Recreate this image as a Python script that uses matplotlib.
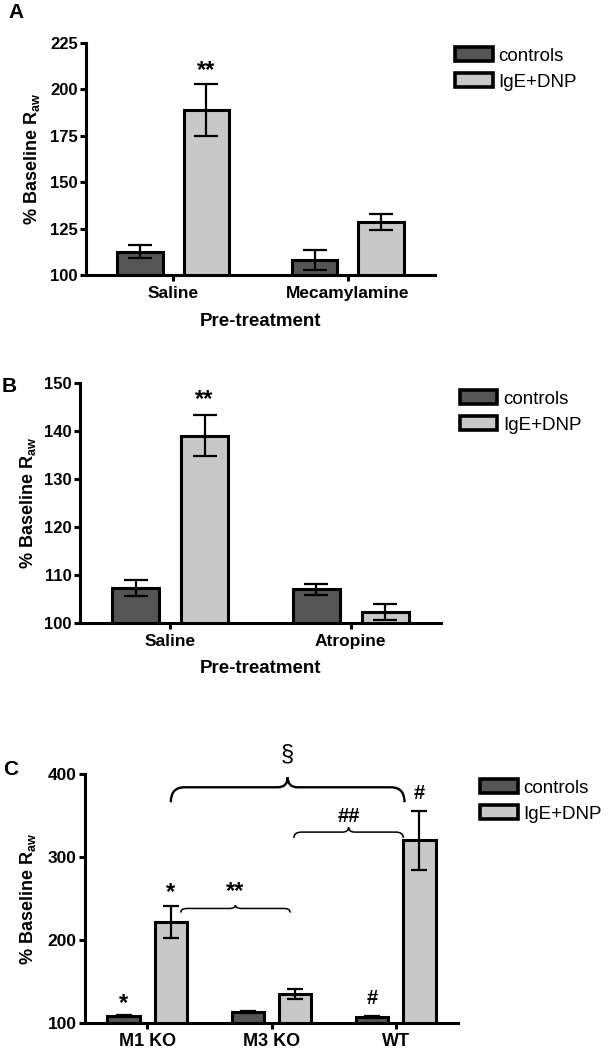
import matplotlib
matplotlib.use("Agg")
import matplotlib.pyplot as plt
from matplotlib.patches import Patch, PathPatch
from matplotlib.path import Path
import numpy as np

# ---------------- data ----------------
groups_a = ["Saline", "Mecamylamine"]
controls_a = [112.5, 108.0]
controls_a_err = [3.5, 5.5]
ige_a = [189.0, 128.5]
ige_a_err = [14.0, 4.5]

groups_b = ["Saline", "Atropine"]
controls_b = [107.3, 107.0]
controls_b_err = [1.6, 1.2]
ige_b = [139.0, 102.3]
ige_b_err = [4.3, 1.7]

groups_c = ["M1 KO", "M3 KO", "WT"]
controls_c = [108.0, 113.0, 107.0]
controls_c_err = [1.2, 1.2, 1.2]
ige_c = [222.0, 134.5, 320.0]
ige_c_err = [19.5, 6.0, 36.0]

series_names = ["controls", "IgE+DNP"]
yticks_a = [100, 125, 150, 175, 200, 225]
yticks_b = [100, 110, 120, 130, 140, 150]
yticks_c = [100, 200, 300, 400]

# ---------------- style ----------------
plt.rcParams['font.family'] = ['Liberation Sans', 'DejaVu Sans']
plt.rcParams['mathtext.fontset'] = 'custom'
plt.rcParams['mathtext.rm'] = 'Liberation Sans:bold'
plt.rcParams['mathtext.it'] = 'Liberation Sans:bold'
plt.rcParams['mathtext.bf'] = 'Liberation Sans:bold'

DARK = '#555555'
LIGHT = '#c8c8c8'
LW = 2.2
W = 0.26
OFF = 0.19

fig = plt.figure(figsize=(6.1, 10.5), dpi=100)

def px_ax(l, t, r, b):
    return fig.add_axes([l / 610, 1 - b / 1050, (r - l) / 610, (b - t) / 1050])

def style_axis(ax, yticks, groups, ylim, tick_fs, xt_fs):
    for s in ['top', 'right']:
        ax.spines[s].set_visible(False)
    for s in ['left', 'bottom']:
        ax.spines[s].set_linewidth(LW)
    ax.set_ylim(*ylim)
    ax.set_xlim(-0.5, len(groups) - 0.5)
    ax.set_yticks(yticks)
    ax.set_xticks(np.arange(len(groups)))
    ax.set_xticklabels(groups, fontsize=xt_fs, fontweight='bold')
    for lab in ax.get_yticklabels():
        lab.set_fontsize(tick_fs)
        lab.set_fontweight('bold')
    ax.tick_params(axis='both', width=LW, length=4, direction='out', pad=2)
    ax.tick_params(axis='x', pad=4)

def draw_bars(ax, ctrl, ctrl_err, ige, ige_err, capsize):
    x = np.arange(len(ctrl))
    ax.bar(x - OFF, ctrl, W, bottom=0, color=DARK, edgecolor='black', linewidth=LW, zorder=2)
    ax.bar(x + OFF, ige, W, bottom=0, color=LIGHT, edgecolor='black', linewidth=LW, zorder=2)
    ax.errorbar(x - OFF, ctrl, yerr=ctrl_err, fmt='none', ecolor='black', elinewidth=1.6,
                capsize=capsize, capthick=1.6, zorder=3)
    ax.errorbar(x + OFF, ige, yerr=ige_err, fmt='none', ecolor='black', elinewidth=1.6,
                capsize=capsize, capthick=1.6, zorder=3)

def add_legend(ax, x_px, y_px):
    handles = [Patch(facecolor=DARK, edgecolor='black', linewidth=2.6),
               Patch(facecolor=LIGHT, edgecolor='black', linewidth=2.6)]
    ax.legend(handles, series_names, loc='upper left',
              bbox_to_anchor=(x_px / 610, 1 - y_px / 1050), bbox_transform=fig.transFigure,
              frameon=False, fontsize=13.5, handlelength=2.0, handleheight=0.8,
              handletextpad=0.3, labelspacing=0.45, borderpad=0, borderaxespad=0)

ylabel = r'% Baseline R$_{\mathrm{aw}}$'

# ---------------- panel A ----------------
axA = px_ax(86, 43, 435, 275)
draw_bars(axA, controls_a, controls_a_err, ige_a, ige_a_err, capsize=8.5)
style_axis(axA, yticks_a, groups_a, (100, 225), 12, 12.5)
axA.set_ylabel(ylabel, fontsize=13, fontweight='bold')
axA.yaxis.set_label_coords(-0.125, 0.5)
axA.set_xlabel('Pre-treatment', fontsize=13.5, fontweight='bold')
axA.xaxis.set_label_coords(0.5, -0.165)
axA.text(0 + OFF, ige_a[0] + ige_a_err[0] + 7, '**', ha='center', va='center',
         fontsize=17, fontweight='bold')
add_legend(axA, 455, 47)
fig.text(8 / 610, 1 - 3 / 1050, 'A', ha='left', va='top', fontsize=15, fontweight='bold')

# ---------------- panel B ----------------
axB = px_ax(80, 383, 441, 623)
draw_bars(axB, controls_b, controls_b_err, ige_b, ige_b_err, capsize=8.5)
style_axis(axB, yticks_b, groups_b, (100, 150), 12, 12.5)
axB.set_ylabel(ylabel, fontsize=13, fontweight='bold')
axB.yaxis.set_label_coords(-0.115, 0.5)
axB.set_xlabel('Pre-treatment', fontsize=13.5, fontweight='bold')
axB.xaxis.set_label_coords(0.5, -0.155)
axB.text(0 + OFF, ige_b[0] + ige_b_err[0] + 3.2, '**', ha='center', va='center',
         fontsize=17, fontweight='bold')
add_legend(axB, 460, 390)
fig.text(2 / 610, 1 - 377 / 1050, 'B', ha='left', va='top', fontsize=15, fontweight='bold')

# ---------------- panel C ----------------
axC = px_ax(85, 774, 458, 1023)
draw_bars(axC, controls_c, controls_c_err, ige_c, ige_c_err, capsize=5.5)
style_axis(axC, yticks_c, groups_c, (100, 400), 12.5, 13)
axC.tick_params(axis='x', pad=3)
axC.set_ylabel(ylabel, fontsize=13, fontweight='bold')
axC.yaxis.set_label_coords(-0.125, 0.5)
add_legend(axC, 480, 779)
fig.text(3 / 610, 1 - 760 / 1050, 'C', ha='left', va='top', fontsize=15, fontweight='bold')


def brace(ax, x1, x2, y, h_end, h_peak, r_end, r_peak, lw):
    xm = (x1 + x2) / 2
    verts = [(x1, y - h_end), (x1, y), (x1 + r_end, y),
             (xm - r_peak, y), (xm, y), (xm, y + h_peak),
             (xm, y), (xm + r_peak, y),
             (x2 - r_end, y), (x2, y), (x2, y - h_end)]
    codes = [Path.MOVETO, Path.CURVE3, Path.CURVE3,
             Path.LINETO, Path.CURVE3, Path.CURVE3,
             Path.CURVE3, Path.CURVE3,
             Path.LINETO, Path.CURVE3, Path.CURVE3]
    ax.add_patch(PathPatch(Path(verts, codes), facecolor='none', edgecolor='black',
                           linewidth=lw, clip_on=False, zorder=4))
    return xm

# § brace: M1 KO IgE to WT IgE
xm = brace(axC, 0.19, 2.07, 384, 18, 12, 0.11, 0.08, 1.7)
axC.text(xm, 423, '§', ha='center', va='center', fontsize=17)
# ## brace: M3 KO IgE to WT IgE
xm = brace(axC, 1.18, 2.06, 330, 7, 6, 0.06, 0.05, 1.1)
axC.text(xm, 349, '##', ha='center', va='center', fontsize=14.5, fontweight='bold')
# ** brace: M1 KO IgE to M3 KO IgE
xm = brace(axC, 0.27, 1.15, 238, 5, 4, 0.05, 0.05, 1.1)
axC.text(xm, 258, '**', ha='center', va='center', fontsize=17, fontweight='bold')

axC.text(0 - OFF, 124, '*', ha='center', va='center', fontsize=17, fontweight='bold')
axC.text(0 + OFF, 257, '*', ha='center', va='center', fontsize=17, fontweight='bold')
axC.text(2 - OFF, 130, '#', ha='center', va='center', fontsize=14.5, fontweight='bold')
axC.text(2 + OFF, 376, '#', ha='center', va='center', fontsize=14.5, fontweight='bold')

fig.savefig('out.png', dpi=100)
